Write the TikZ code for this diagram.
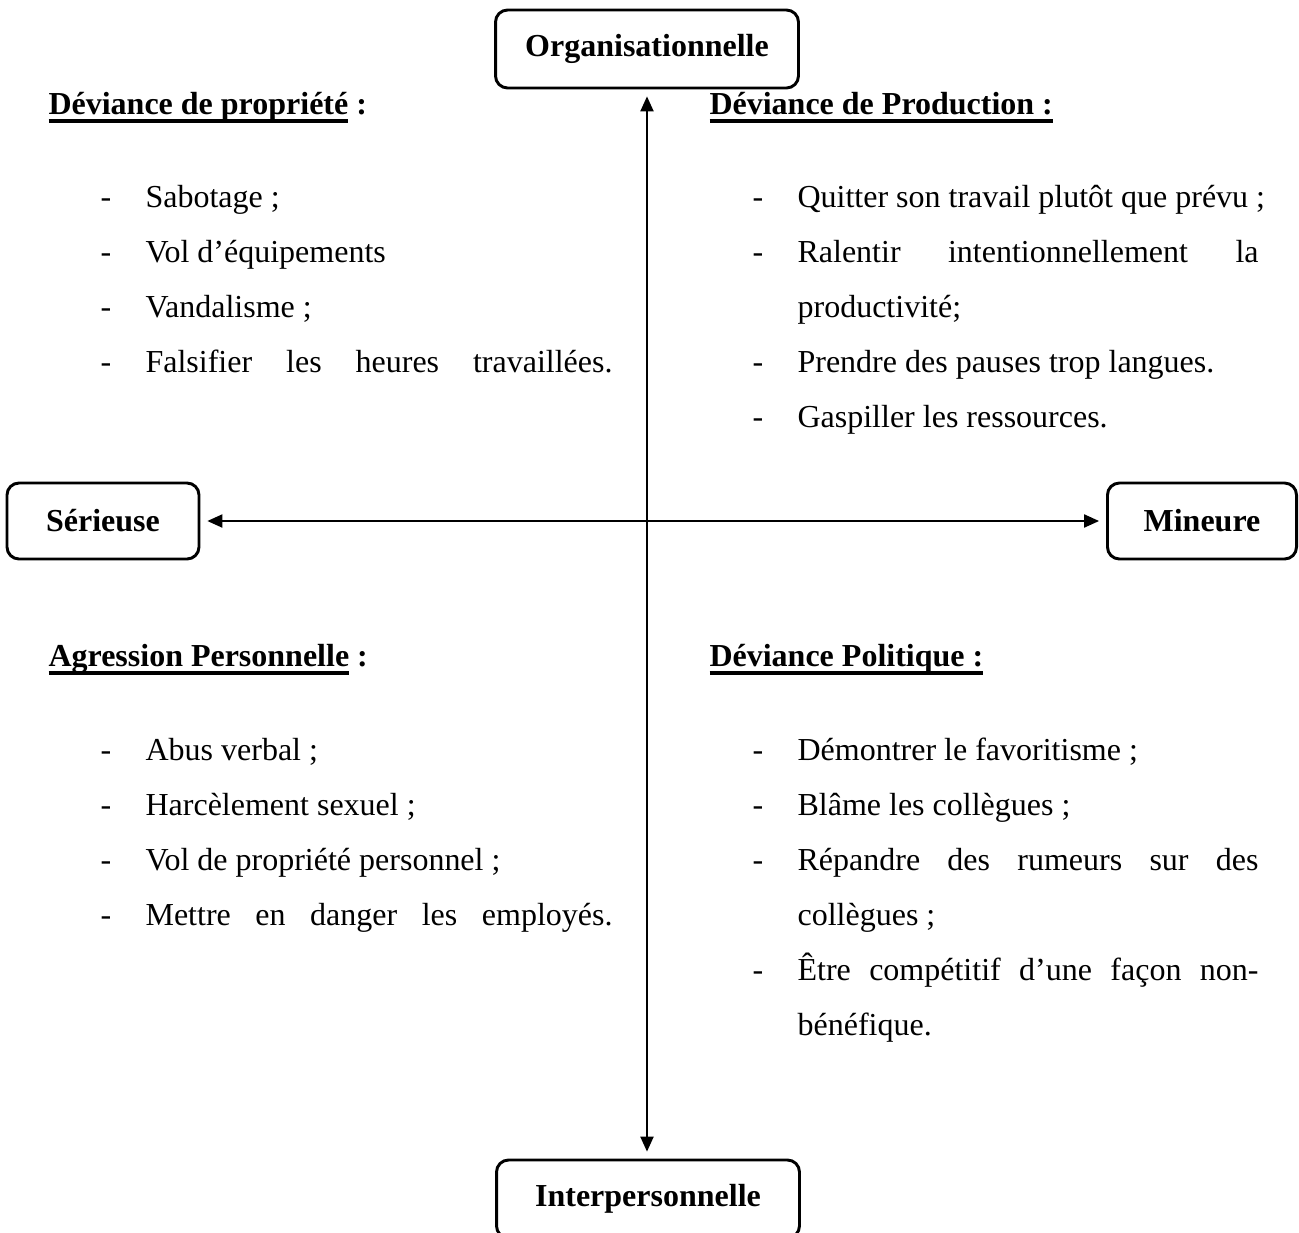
\documentclass[tikz,border=0pt]{standalone}
\usepackage{fontspec}
\setmainfont{Liberation Serif}
\usetikzlibrary{arrows.meta}
\newcommand{\souligne}[1]{\setbox0\hbox{#1}\rlap{\rule[-3.3pt]{\wd0}{1.4pt}}\box0\relax}
\newcommand{\tiret}[1]{\hangindent=16.9pt\hangafter=1\noindent\strut\makebox[16.9pt][l]{-}#1\strut\par}
\newcommand{\tiretplein}[1]{{\parfillskip=0pt\tiret{#1}}}

\begin{document}
\begin{tikzpicture}[x=0.375pt,y=-0.375pt,
  boite/.style={draw,rounded corners=4.5pt,line width=1.1pt,inner sep=0pt,font=\fontsize{12}{14}\selectfont\bfseries},
  titre/.style={anchor=base west,inner sep=0pt,font=\fontsize{12}{14}\selectfont\bfseries},
  liste/.style={anchor=north west,inner sep=0pt,align=justify,font=\fontsize{12}{20.6}\selectfont},
  fleche/.style={{Triangle[length=5.6pt,width=4.9pt]}-{Triangle[length=5.6pt,width=4.9pt]},line width=0.65pt,shorten <=2.6pt,shorten >=2.6pt}]
      \useasboundingbox (0,0) rectangle (1299,1233);
      \clip (0,0) rectangle (1299,1233);
      \node[boite,minimum width=113.6pt,minimum height=29.25pt] (org) at (647,49) {Organisationnelle};
      \node[boite,minimum width=113.6pt,minimum height=29.25pt] (inter) at (648,1199) {Interpersonnelle};
      \node[boite,minimum width=72pt,minimum height=28.5pt] (ser) at (103,521) {Sérieuse};
      \node[boite,minimum width=70.9pt,minimum height=28.5pt] (min) at (1202,521) {Mineure};

      \draw[fleche] (org.south) -- (org.south |- inter.north);
      \draw[fleche] (ser) -- (min);

      % quadrants
      \node[titre] (tprop) at (48,114) {\souligne{Déviance de propriété} :};
      \node[liste,text width=192pt] (prop) at (100,168.5) {
        \tiret{Sabotage ;}
        \tiret{Vol d’équipements}
        \tiret{Vandalisme ;}
        \tiretplein{Falsifier les heures travaillées.}};
      \node[titre] (tprod) at (709,114) {\souligne{Déviance de Production :}};
      \node[liste,text width=189.75pt] (prod) at (752,168.5) {
        \tiret{\mbox{Quitter son travail plutôt que prévu ;}}
        \tiret{Ralentir intentionnellement la\linebreak productivité;}
        \tiret{Prendre des pauses trop langues.}
        \tiret{Gaspiller les ressources.}};
      \node[titre] (taggr) at (48,666) {\souligne{Agression Personnelle} :};
      \node[liste,text width=192pt] (aggr) at (100,721.5) {
        \tiret{Abus verbal ;}
        \tiret{Harcèlement sexuel ;}
        \tiret{Vol de propriété personnel ;}
        \tiretplein{Mettre en danger les employés.}};
      \node[titre] (tpoli) at (709,666) {\souligne{Déviance Politique :}};
      \node[liste,text width=189.75pt] (poli) at (752,721.5) {
        \tiret{Démontrer le favoritisme ;}
        \tiret{Blâme les collègues ;}
        \tiret{Répandre des rumeurs sur des\linebreak collègues ;}
        \tiret{Être compétitif d’une façon non-\linebreak bénéfique.}};
\end{tikzpicture}
\end{document}
